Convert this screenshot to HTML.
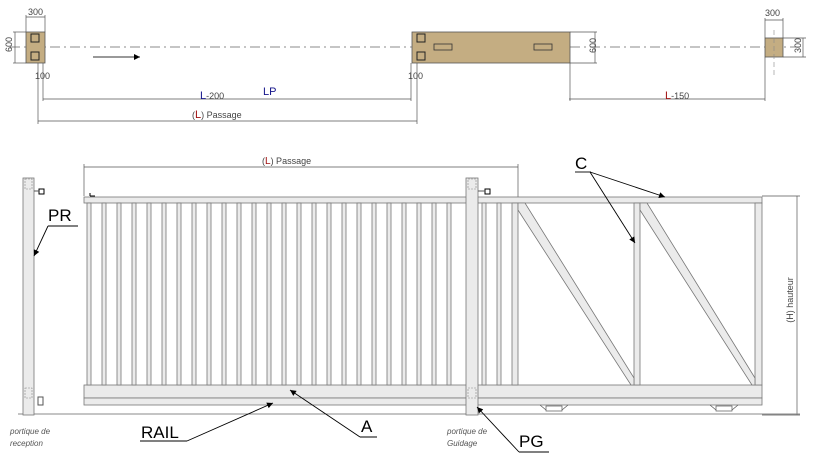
<!DOCTYPE html>
<html><head><meta charset="utf-8"><style>
html,body{margin:0;padding:0;background:#fff;width:817px;height:457px;overflow:hidden}
svg{display:block}
text{font-family:"Liberation Sans",sans-serif}
</style></head><body>
<svg width="817" height="457" viewBox="0 0 817 457" xmlns="http://www.w3.org/2000/svg">
<defs>
<marker id="ar" viewBox="0 0 10 10" refX="10" refY="5" markerWidth="9" markerHeight="6" orient="auto" markerUnits="userSpaceOnUse"><path d="M0,0L10,5L0,10z" fill="#000"/></marker>
</defs>
<rect x="0" y="0" width="817" height="457" fill="#fff"/>
<!-- plan view -->
<line x1="10" y1="47" x2="800" y2="47" stroke="#666" stroke-width="0.8" stroke-dasharray="10,4,2,4"/>
<rect x="26" y="32" width="19" height="31" fill="#c4ad82" stroke="#555" stroke-width="0.8"/>
<rect x="31" y="34" width="8" height="8" fill="none" stroke="#222"/>
<rect x="31" y="52" width="8" height="8" fill="none" stroke="#222"/>
<rect x="412" y="32" width="158" height="31" fill="#c4ad82" stroke="#555" stroke-width="0.8"/>
<rect x="417" y="34" width="8" height="8" fill="none" stroke="#222"/>
<rect x="417" y="52" width="8" height="8" fill="none" stroke="#222"/>
<rect x="434" y="44" width="18" height="6" fill="none" stroke="#333" stroke-width="0.8"/>
<rect x="534" y="44" width="18" height="6" fill="none" stroke="#333" stroke-width="0.8"/>
<rect x="765" y="38" width="18" height="19" fill="#c4ad82" stroke="#555" stroke-width="0.8"/>
<line x1="774" y1="30" x2="774" y2="75" stroke="#888" stroke-width="0.6" stroke-dasharray="5,3"/>
<line x1="93" y1="57" x2="140" y2="57" stroke="#333" marker-end="url(#ar)"/>
<g stroke="#555" stroke-width="0.7" fill="none">
<line x1="26" y1="15" x2="26" y2="32"/><line x1="45" y1="15" x2="45" y2="32"/><line x1="26" y1="17" x2="45" y2="17"/>
<line x1="13" y1="32" x2="26" y2="32"/><line x1="13" y1="63" x2="26" y2="63"/><line x1="15" y1="32" x2="15" y2="63"/>
<line x1="43" y1="63" x2="43" y2="101"/><line x1="38" y1="63" x2="38" y2="124"/>
<line x1="43" y1="99" x2="411" y2="99"/><line x1="38" y1="121" x2="417" y2="121"/>
<line x1="411" y1="63" x2="411" y2="101"/><line x1="417" y1="63" x2="417" y2="124"/>
<line x1="570" y1="63" x2="570" y2="101"/><line x1="765" y1="57" x2="765" y2="101"/><line x1="569" y1="99" x2="765" y2="99"/>
<line x1="570" y1="32" x2="597" y2="32"/><line x1="570" y1="63" x2="597" y2="63"/><line x1="595" y1="32" x2="595" y2="63"/>
<line x1="765" y1="18" x2="765" y2="38"/><line x1="783" y1="18" x2="783" y2="38"/><line x1="765" y1="20" x2="783" y2="20"/>
<line x1="783" y1="38" x2="806" y2="38"/><line x1="783" y1="57" x2="806" y2="57"/><line x1="803" y1="38" x2="803" y2="57"/>
</g>
<g font-size="9" fill="#444">
<text x="28" y="15">300</text>
<text x="12" y="52" transform="rotate(-90 12 52)">600</text>
<text x="35" y="79">100</text>
<text x="408" y="79">100</text>
<text x="596" y="53" transform="rotate(-90 596 53)">600</text>
<text x="765" y="16">300</text>
<text x="801" y="53" transform="rotate(-90 801 53)">300</text>
<text x="200" y="99"><tspan fill="#14148a" font-size="11">L</tspan>-200</text>
<text x="263" y="95" fill="#14148a" font-size="11">LP</text>
<text x="192" y="118">(<tspan fill="#a01010" font-size="11">L</tspan>) Passage</text>
<text x="665" y="99"><tspan fill="#a01010" font-size="11">L</tspan>-150</text>
</g>
<!-- elevation -->
<g stroke="#555" stroke-width="0.7" fill="none">
<line x1="84" y1="167" x2="518" y2="167"/><line x1="84" y1="164" x2="84" y2="196"/><line x1="518" y1="164" x2="518" y2="205"/>
<line x1="762" y1="196" x2="800" y2="196"/><line x1="762" y1="415" x2="800" y2="415"/><line x1="797" y1="196" x2="797" y2="415"/>
</g>
<text x="262" y="164" font-size="9" fill="#444">(<tspan fill="#a01010" font-size="10">L</tspan>) Passage</text>
<text x="793" y="300" font-size="9" fill="#444" text-anchor="middle" transform="rotate(-90 793 300)">(H) hauteur</text>
<line x1="18" y1="414" x2="800" y2="414" stroke="#888" stroke-width="1"/>
<g fill="#ebebeb" stroke="#777" stroke-width="0.8">
<rect x="84" y="197" width="678" height="6"/>
<rect x="84" y="385" width="678" height="13"/>
<rect x="84" y="398" width="678" height="7"/>
<rect x="87" y="203" width="4" height="182"/><rect x="102" y="203" width="4" height="182"/><rect x="117" y="203" width="4" height="182"/><rect x="132" y="203" width="4" height="182"/><rect x="147" y="203" width="4" height="182"/><rect x="162" y="203" width="4" height="182"/><rect x="177" y="203" width="4" height="182"/><rect x="192" y="203" width="4" height="182"/><rect x="207" y="203" width="4" height="182"/><rect x="222" y="203" width="4" height="182"/><rect x="237" y="203" width="4" height="182"/><rect x="252" y="203" width="4" height="182"/><rect x="267" y="203" width="4" height="182"/><rect x="282" y="203" width="4" height="182"/><rect x="297" y="203" width="4" height="182"/><rect x="312" y="203" width="4" height="182"/><rect x="327" y="203" width="4" height="182"/><rect x="342" y="203" width="4" height="182"/><rect x="357" y="203" width="4" height="182"/><rect x="372" y="203" width="4" height="182"/><rect x="387" y="203" width="4" height="182"/><rect x="402" y="203" width="4" height="182"/><rect x="417" y="203" width="4" height="182"/><rect x="432" y="203" width="4" height="182"/><rect x="447" y="203" width="4" height="182"/><rect x="482" y="203" width="4" height="182"/><rect x="497" y="203" width="4" height="182"/>
<rect x="512" y="203" width="6" height="182"/>
<rect x="634" y="203" width="6" height="182"/>
<rect x="755" y="203" width="7" height="182"/>
<polygon points="518,203 525,203 634,378 634,385 631,385 518,210"/>
<polygon points="640,203 647,203 755,378 755,385 752,385 640,210"/>
<rect x="466" y="178" width="12" height="237"/>
<rect x="23" y="178" width="11" height="237"/>
</g>
<g stroke="#888" stroke-width="0.6" fill="none" stroke-dasharray="2,1">
<rect x="468" y="179" width="8" height="10"/><rect x="468" y="388" width="8" height="10"/>
<rect x="25" y="179" width="7" height="10"/><rect x="25" y="388" width="7" height="10"/>
</g>
<rect x="39" y="189" width="5" height="5" fill="#fff" stroke="#000"/>
<line x1="34" y1="191" x2="39" y2="191" stroke="#555"/>
<rect x="485" y="189" width="5" height="5" fill="#fff" stroke="#000"/>
<line x1="478" y1="191" x2="485" y2="191" stroke="#555"/>
<rect x="38" y="397" width="5" height="8" fill="#fff" stroke="#555"/>
<line x1="90" y1="193" x2="90" y2="196" stroke="#000"/><line x1="90" y1="196" x2="95" y2="196" stroke="#000"/>
<g stroke="#555" stroke-width="0.7" fill="#fff">
<rect x="546" y="406" width="16" height="5"/><rect x="716" y="406" width="16" height="5"/>
<line x1="540" y1="405" x2="546" y2="410"/><line x1="568" y1="405" x2="562" y2="410"/>
<line x1="710" y1="405" x2="716" y2="410"/><line x1="738" y1="405" x2="732" y2="410"/>
</g>
<!-- labels -->
<g font-size="17" fill="#000">
<text x="48" y="221">PR</text>
<text x="141" y="438">RAIL</text>
<text x="361" y="432">A</text>
<text x="519" y="447">PG</text>
<text x="575" y="169">C</text>
</g>
<g stroke="#000" stroke-width="0.9" fill="none">
<line x1="48" y1="226" x2="78" y2="226"/><line x1="48" y1="226" x2="34" y2="256" marker-end="url(#ar)"/>
<line x1="140" y1="441" x2="187" y2="441"/><line x1="187" y1="441" x2="273" y2="403" marker-end="url(#ar)"/>
<line x1="360" y1="437" x2="377" y2="437"/><line x1="360" y1="437" x2="290" y2="390" marker-end="url(#ar)"/>
<line x1="519" y1="452" x2="549" y2="452"/><line x1="519" y1="452" x2="477" y2="407" marker-end="url(#ar)"/>
<line x1="575" y1="172" x2="591" y2="172"/><line x1="590" y1="172" x2="665" y2="197" marker-end="url(#ar)"/><line x1="590" y1="172" x2="635" y2="243" marker-end="url(#ar)"/>
</g>
<g font-size="8" font-style="italic" fill="#555">
<text x="10" y="434">portique de</text><text x="10" y="446">reception</text>
<text x="447" y="434">portique de</text><text x="447" y="446">Guidage</text>
</g>
</svg>
</body></html>
